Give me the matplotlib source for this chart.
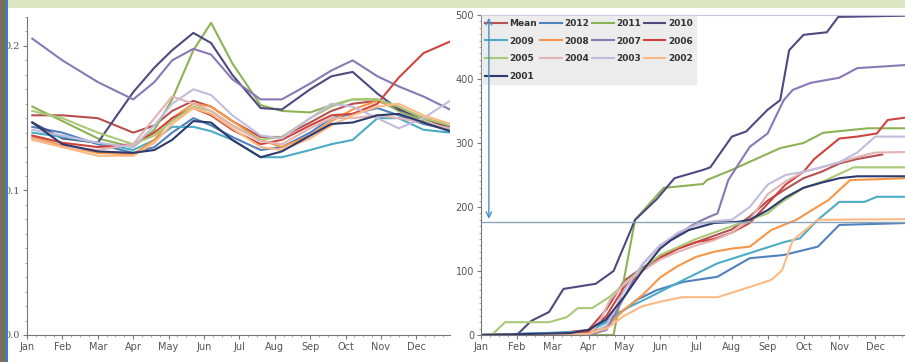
import numpy as np
import matplotlib.pyplot as plt
from matplotlib.ticker import MultipleLocator
from matplotlib.patches import Rectangle

# =========================
# Data
# =========================

months = ["Jan", "Feb", "Mar", "Apr", "May", "Jun",
          "Jul", "Aug", "Sep", "Oct", "Nov", "Dec"]

series_names = ["Mean", "2012", "2011", "2010", "2009", "2008", "2007",
                "2006", "2005", "2004", "2003", "2002", "2001"]

colors = {
    "Mean": "#b5514f", "2012": "#4f81bd", "2011": "#8db255", "2010": "#4d4a80",
    "2009": "#4bacc6", "2008": "#f79646", "2007": "#8a78b4", "2006": "#d0443e",
    "2005": "#a9c878", "2004": "#e3b3b1", "2003": "#c4bcdc", "2002": "#fbb984",
    "2001": "#2e3a6e",
}

# left panel: values on a common month grid
left_x = [0.15, 1.0, 2.0, 3.0, 3.6, 4.1, 4.7, 5.2, 5.8, 6.6, 7.2, 8.0, 8.6, 9.2, 9.9, 10.5, 11.2, 11.95]

left_vals = {
    "Mean": [0.152, 0.152, 0.150, 0.140, 0.145, 0.155, 0.162, 0.158, 0.148, 0.137, 0.137, 0.147, 0.155, 0.160, 0.162, 0.157, 0.150, 0.143],
    "2012": [0.144, 0.140, 0.132, 0.126, 0.130, 0.140, 0.150, 0.145, 0.137, 0.128, 0.130, 0.140, 0.150, 0.153, 0.157, 0.152, 0.146, 0.142],
    "2011": [0.158, 0.148, 0.136, 0.130, 0.142, 0.163, 0.197, 0.216, 0.188, 0.159, 0.155, 0.154, 0.159, 0.163, 0.163, 0.155, 0.148, 0.141],
    "2010": [0.147, 0.136, 0.133, 0.168, 0.185, 0.197, 0.209, 0.202, 0.180, 0.157, 0.156, 0.170, 0.179, 0.182, 0.167, 0.156, 0.150, 0.144],
    "2009": [0.140, 0.137, 0.133, 0.128, 0.135, 0.144, 0.144, 0.141, 0.135, 0.123, 0.123, 0.128, 0.132, 0.135, 0.150, 0.150, 0.142, 0.140],
    "2008": [0.137, 0.131, 0.126, 0.125, 0.135, 0.150, 0.160, 0.158, 0.148, 0.135, 0.130, 0.138, 0.148, 0.156, 0.162, 0.158, 0.150, 0.145],
    "2007": [0.205, 0.190, 0.175, 0.163, 0.175, 0.190, 0.198, 0.194, 0.177, 0.163, 0.163, 0.174, 0.183, 0.190, 0.179, 0.172, 0.165, 0.156],
    "2006": [0.138, 0.133, 0.130, 0.132, 0.140, 0.150, 0.157, 0.152, 0.142, 0.132, 0.135, 0.145, 0.152, 0.153, 0.160, 0.178, 0.195, 0.203],
    "2005": [0.155, 0.150, 0.140, 0.132, 0.138, 0.148, 0.158, 0.155, 0.145, 0.135, 0.137, 0.150, 0.158, 0.163, 0.163, 0.158, 0.150, 0.145],
    "2004": [0.136, 0.130, 0.128, 0.132, 0.150, 0.165, 0.160, 0.155, 0.145, 0.134, 0.132, 0.143, 0.150, 0.150, 0.152, 0.150, 0.147, 0.143],
    "2003": [0.142, 0.138, 0.133, 0.130, 0.145, 0.160, 0.170, 0.166, 0.152, 0.138, 0.136, 0.150, 0.160, 0.158, 0.150, 0.143, 0.150, 0.162],
    "2002": [0.135, 0.130, 0.124, 0.124, 0.133, 0.146, 0.157, 0.153, 0.143, 0.130, 0.128, 0.136, 0.145, 0.152, 0.158, 0.160, 0.152, 0.146],
    "2001": [0.147, 0.132, 0.127, 0.126, 0.128, 0.135, 0.148, 0.147, 0.135, 0.123, 0.127, 0.138, 0.146, 0.147, 0.152, 0.153, 0.147, 0.141],
}

# right panel: cumulative totals, each with its own month points
right_x = {
    "Mean": [0, 2, 3, 3.5, 4, 4.5, 5, 5.5, 6, 6.5, 7, 7.5, 8, 8.5, 9, 9.5, 10, 10.5, 11.2],
    "2012": [0, 3.0, 3.5, 4.0, 4.35, 4.9, 5.65, 6.6, 7.0, 7.5, 8.45, 9.4, 10.0, 11.9],
    "2011": [0, 3.7, 4.3, 5.1, 5.5, 6.2, 6.3, 7.0, 8.35, 9.0, 9.55, 10.8, 11.9],
    "2010": [0, 1.0, 1.4, 1.9, 2.3, 3.2, 3.7, 4.3, 4.9, 5.4, 6.2, 6.4, 7.0, 7.4, 8.0, 8.35, 8.6, 9.0, 9.65, 9.97, 11.9],
    "2009": [0, 3.0, 3.5, 4.0, 4.7, 5.65, 6.6, 7.5, 8.45, 8.9, 9.4, 10.0, 10.7, 11.05, 11.9],
    "2008": [0, 2.5, 3.0, 3.5, 4.0, 4.5, 5.0, 5.5, 6.0, 6.5, 7.0, 7.5, 8.1, 8.8, 9.7, 10.3, 11.9],
    "2007": [0, 3.0, 3.5, 4.0, 4.5, 5.0, 5.5, 6.0, 6.3, 6.6, 6.9, 7.5, 8.0, 8.45, 8.7, 9.2, 10.0, 10.5, 11.9],
    "2006": [0, 2.0, 3.0, 3.5, 4.0, 4.5, 5.0, 5.5, 6.0, 6.5, 7.0, 7.5, 8.0, 8.5, 9.0, 9.3, 10.0, 10.5, 11.05, 11.35, 11.9],
    "2005": [0, 0.3, 0.67, 1.9, 2.4, 2.7, 3.1, 3.6, 4.2, 5.0, 6.0, 7.0, 8.0, 8.35, 9.0, 9.55, 10.4, 11.9],
    "2004": [0, 3.0, 3.3, 3.6, 4.0, 4.5, 5.0, 5.5, 6.0, 6.5, 7.0, 7.5, 8.0, 8.5, 9.0, 9.5, 10.0, 10.5, 11.0, 11.9],
    "2003": [0, 3.0, 3.5, 4.0, 4.5, 5.0, 5.5, 6.0, 6.5, 7.0, 7.5, 8.0, 8.5, 9.0, 9.5, 10.0, 10.5, 11.0, 11.9],
    "2002": [0, 3.0, 3.5, 4.0, 4.5, 5.0, 5.6, 6.6, 7.5, 8.1, 8.4, 8.7, 9.4, 11.9],
    "2001": [0, 2.5, 3.0, 3.5, 4.0, 4.5, 5.0, 5.3, 5.8, 6.5, 7.2, 7.5, 8.0, 8.5, 9.0, 9.5, 10.0, 10.5, 11.9],
}

right_vals = {
    "Mean": [0, 2, 8, 40, 85, 105, 122, 135, 145, 155, 165, 185, 210, 228, 245, 255, 268, 275, 282],
    "2012": [0, 5, 23, 39, 55, 70, 83, 91, 104, 120, 125, 138, 172, 175],
    "2011": [0, 0, 180, 230, 232, 236, 242, 258, 292, 300, 316, 323, 323],
    "2010": [0, 0, 22, 36, 72, 80, 100, 180, 212, 245, 258, 262, 310, 318, 352, 367, 445, 469, 473, 497, 499],
    "2009": [0, 5, 20, 40, 59, 86, 112, 128, 145, 151, 180, 208, 208, 216, 216],
    "2008": [0, 2, 5, 12, 40, 62, 90, 108, 122, 130, 135, 138, 164, 180, 211, 242, 245],
    "2007": [0, 0, 8, 60, 110, 140, 158, 175, 183, 190, 242, 294, 315, 367, 383, 394, 402, 417, 422],
    "2006": [0, 0, 5, 30, 75, 100, 120, 135, 145, 150, 160, 175, 205, 235, 255, 275, 307, 310, 315, 336, 340],
    "2005": [0, 0, 20, 20, 28, 42, 42, 60, 90, 125, 150, 170, 190, 206, 230, 240, 262, 262],
    "2004": [0, 0, 20, 55, 80, 100, 118, 130, 140, 148, 160, 180, 220, 240, 255, 262, 270, 278, 285, 286],
    "2003": [0, 0, 15, 70, 110, 140, 160, 172, 178, 180, 200, 235, 250, 255, 262, 270, 285, 310, 310],
    "2002": [0, 2, 10, 30, 45, 52, 59, 59, 75, 86, 101, 148, 180, 181],
    "2001": [0, 3, 8, 25, 60, 100, 135, 148, 164, 175, 177, 180, 195, 215, 230, 238, 245, 248, 248],
}

mean_total = 177

# =========================
# Figure
# =========================

fig = plt.figure(figsize=(9.05, 3.62), dpi=100)
fig.patch.set_facecolor("white")

W, H = 905.0, 362.0

ax1 = fig.add_axes([27 / W, 27 / H, 423 / W, 318 / H])
ax2 = fig.add_axes([481 / W, 27 / H, 430 / W, 320 / H])

# left panel
for name in series_names:
    ax1.plot(left_x, left_vals[name], color=colors[name], lw=1.5)

ax1.set_xlim(0, 11.95)
ax1.set_ylim(0, 0.22)
ax1.set_yticks([0.0, 0.1, 0.2])
ax1.set_yticklabels(["0.0", "0.1", "0.2"], family="DejaVu Serif")
ax1.yaxis.set_minor_locator(MultipleLocator(0.01))
ax1.set_xticks(range(12))
ax1.set_xticklabels(months)
ax1.xaxis.set_minor_locator(MultipleLocator(0.25))
for s in ["top", "right"]:
    ax1.spines[s].set_visible(False)

# right panel
for name in series_names:
    ax2.plot(right_x[name], right_vals[name], color=colors[name], lw=1.5,
             label=name)

ax2.axhline(mean_total, color="#8aa4b8", lw=1)
ax2.annotate("", xy=(0.22, 500), xytext=(0.22, mean_total),
             arrowprops=dict(arrowstyle="<->", color="#4b8fc8", lw=1),
             zorder=10)

ax2.set_xlim(0, 12)
ax2.set_ylim(0, 500)
ax2.set_yticks(range(0, 501, 100))
ax2.yaxis.set_minor_locator(MultipleLocator(10))
ax2.set_xticks(range(12))
ax2.set_xticklabels(months)
ax2.xaxis.set_minor_locator(MultipleLocator(0.25))
ax2.spines["top"].set_color("#c8c4dc")
ax2.spines["right"].set_visible(False)

# legend, filled row by row
order = [0, 4, 8, 12, 1, 5, 9, 2, 6, 10, 3, 7, 11]
handles, labels = ax2.get_legend_handles_labels()
leg = ax2.legend([handles[i] for i in order], [labels[i] for i in order],
                 ncol=4, loc="upper left", bbox_to_anchor=(0.0, 1.0),
                 frameon=True, fancybox=False,
                 handlelength=2.4, handletextpad=0.3, columnspacing=0.3,
                 labelspacing=0.95, borderpad=0.35, borderaxespad=0.1,
                 prop={"weight": "bold", "size": 6.5})
leg.get_frame().set_facecolor("#ececec")
leg.get_frame().set_edgecolor("#ececec")
leg.get_frame().set_alpha(1)
leg.set_zorder(5)
for t in leg.get_texts():
    t.set_color("#333333")

for ax in (ax1, ax2):
    for s in ["left", "bottom"]:
        ax.spines[s].set_color("#777777")
    ax.tick_params(which="major", length=3, width=0.8, color="#777777",
                   labelsize=7, labelcolor="#555555", pad=2)
    ax.tick_params(which="minor", length=1.5, width=0.6, color="#999999")

# frame decorations from the screenshot
fig.patches.append(Rectangle((0, 1 - 8 / H), 1, 8 / H, transform=fig.transFigure,
                             facecolor="#dde6c2", edgecolor="none", zorder=20))
fig.patches.append(Rectangle((0, 0), 6 / W, 1, transform=fig.transFigure,
                             facecolor="#77705f", edgecolor="none", zorder=20))
fig.patches.append(Rectangle((6 / W, 0), 2 / W, 1, transform=fig.transFigure,
                             facecolor="#3a7fd0", edgecolor="none", zorder=20))

fig.savefig("out.png", dpi=100)
